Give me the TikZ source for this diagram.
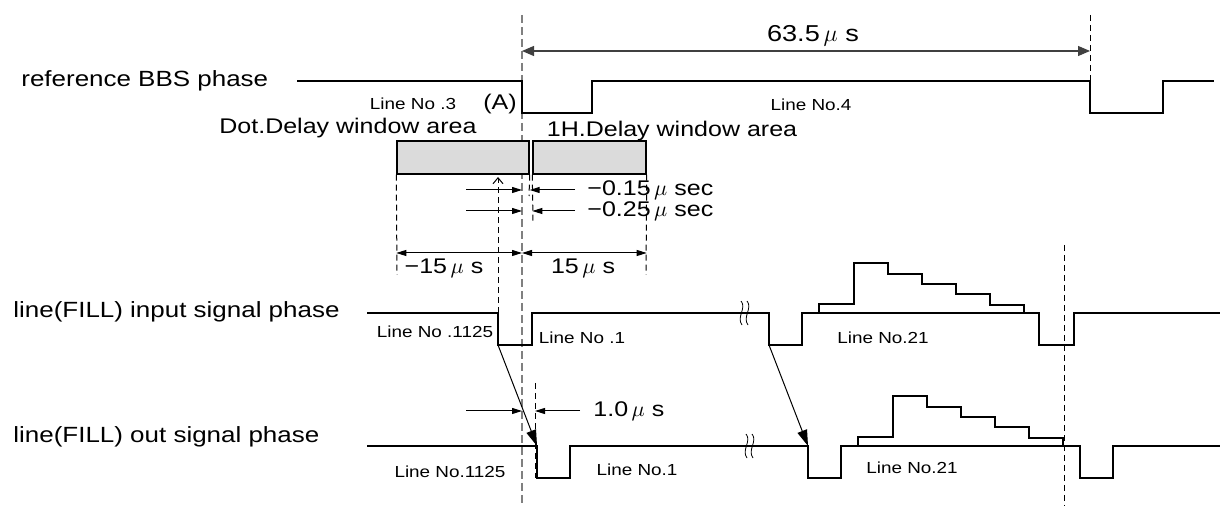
\documentclass[tikz,border=0pt]{standalone}
\usepackage{fontspec}
\setmainfont[FakeStretch=1.18]{Liberation Sans}
\usetikzlibrary{arrows.meta}
\begin{document}
\begin{tikzpicture}[
  x=0.5pt, y=-0.5pt,
  every node/.style={inner sep=0pt, font=\fontsize{10.6}{12}\selectfont},
  lblbig/.style={font=\fontsize{11}{13}\selectfont, anchor=west},
  lblsmall/.style={font=\fontsize{8}{9.5}\selectfont},
  wave/.style={line width=0.75pt, line join=miter},
  gdash/.style={draw=black!50, line width=0.6pt, dash pattern=on 4pt off 2pt},
  kdash/.style={draw=black, line width=0.5pt, dash pattern=on 3pt off 2pt},
  dimarr/.style={line width=0.5pt, -{Triangle[length=5pt,width=3pt]}},
  dimboth/.style={line width=0.5pt, {Triangle[length=5pt,width=3pt]}-{Triangle[length=5pt,width=3pt]}},
  bigboth/.style={draw=black!75, line width=0.6pt, {Triangle[length=6pt,width=5pt]}-{Triangle[length=6pt,width=5pt]}},
  slantarr/.style={line width=0.5pt, -{Triangle[length=8pt,width=5pt]}},
  win/.style={draw=black, fill=black!14, line width=0.7pt}
]
\useasboundingbox (0,0) rectangle (1220,506);

% reference lines
\coordinate (tA) at (522,15);
\draw[gdash] (tA) -- (522,506);
\draw[kdash] (1090,15) -- (1090,113);
\draw[kdash] (1064,245) -- (1064,506);

% reference BBS
\node[lblbig] (bbs) at (21,81) {reference BBS phase};
\draw[wave] (297,81) -- (522,81) -- (522,113) -- (592,113) -- (592,81) -- (1090,81)
  -- (1090,113) -- (1163,113) -- (1163,81) -- (1214,81);
\coordinate (hL) at (522,51);
\coordinate (hR) at (1090,51);
\draw[bigboth] (hL) -- (hR);
\node[font=\fontsize{11.5}{13}\selectfont] (hper) at (813,36) {63.5\,$\mu$ s};
\node[lblsmall] (ln3) at (413,104) {Line No .3};
\node (mkA) at (500,104) {(A)};
\node[lblsmall] (ln4) at (811,105) {Line No.4};

% windows
\node (dotlbl) at (348,128) {Dot.Delay window area};
\node (hlbl) at (672,131) {1H.Delay window area};
\node[win, minimum width=66pt, minimum height=16.5pt] (dot) at (463,157.5) {};
\node[win, minimum width=56.5pt, minimum height=16.5pt] (one) at (589.5,157.5) {};
\draw[kdash] (dot.south west) -- (397,275);
\draw[kdash] (one.south east) -- (646,275);
\draw[kdash] (dot.south east) -- (529,196);
\draw[kdash] (one.south west) -- (533,223);

% offsets
\coordinate (a1) at (466,190);
\coordinate (b1) at (575,190);
\draw[dimarr] (a1) -- (a1 -| tA);
\draw[dimarr] (b1) -- (b1 -| dot.east);
\node[anchor=west] (off1) at (587,190) {−0.15\,$\mu$ sec};
\coordinate (a2) at (466,211);
\coordinate (b2) at (575,211);
\draw[dimarr] (a2) -- (a2 -| tA);
\draw[dimarr] (b2) -- (b2 -| one.west);
\node[anchor=west] (off2) at (587,211) {−0.25\,$\mu$ sec};

\coordinate (m) at (522,253);
\draw[dimboth] (m -| dot.west) -- (m);
\draw[dimboth] (m) -- (m -| one.east);
\node (neg15) at (444,268) {−15\,$\mu$ s};
\node (pos15) at (583,268) {15\,$\mu$ s};

% input signal
\node[lblbig] (fin) at (13,312) {line(FILL) input signal phase};
\draw[wave] (367,313) -- (498,313) -- (498,345) -- (532,345) -- (532,313) -- (769,313)
  -- (769,345) -- (802,345) -- (802,313) -- (1039,313) -- (1039,345) -- (1074,345)
  -- (1074,313) -- (1220,313);
\node[lblsmall] (in1125) at (435,332) {Line No .1125};
\node[lblsmall] (in1) at (582,338) {Line No .1};
\node[lblsmall] (in21) at (883,338) {Line No.21};

\coordinate (i0) at (498,313);
\coordinate (wa) at (498,177);
\draw[kdash, -{Straight Barb[length=3pt,width=5pt]}] (i0) -- (wa);

% output signal
\node[lblbig] (fout) at (13,437) {line(FILL) out signal phase};
\draw[wave] (367,446) -- (537,446) -- (537,478) -- (570,478) -- (570,446) -- (808,446)
  -- (808,478) -- (841,478) -- (841,446) -- (1080,446) -- (1080,478) -- (1113,478)
  -- (1113,446) -- (1220,446);
\node[lblsmall] (out1125) at (450,472) {Line No.1125};
\node[lblsmall] (out1) at (637,470) {Line No.1};
\node[lblsmall] (out21) at (912,468) {Line No.21};

% video staircase
\foreach \sx/\sy in {819/313, 858/446}
  \draw[wave] (\sx,\sy) -- ++(0,-9) -- ++(35,0) -- ++(0,-41) -- ++(34,0) -- ++(0,11)
    -- ++(34,0) -- ++(0,10) -- ++(34,0) -- ++(0,10) -- ++(34,0) -- ++(0,11)
    -- ++(34,0) -- ++(0,9);

% break marks
\foreach \bx/\by in {741/313, 746/446}
  \foreach \dx in {0,6}
    \draw[line width=0.4pt] ({\bx+\dx},{\by-12}) .. controls ({\bx+\dx+6},{\by-5}) and ({\bx+\dx-5},{\by+4}) .. ({\bx+\dx+1},{\by+12});

% delays
\coordinate (i1) at (498,345);
\coordinate (o1) at (537,446);
\coordinate (i2) at (769,345);
\coordinate (o2) at (808,446);
\draw[slantarr] (i1) -- (o1);
\draw[slantarr] (i2) -- (o2);

\coordinate (r) at (522,411);
\coordinate (od) at (535,411);
\draw[kdash] (535,383) -- (535,478);
\draw[dimarr] (466,411) -- (r);
\draw[dimarr] (580,411) -- (od);
\node[anchor=west] (d10) at (593,411) {1.0\,$\mu$ s};
\end{tikzpicture}
\end{document}
